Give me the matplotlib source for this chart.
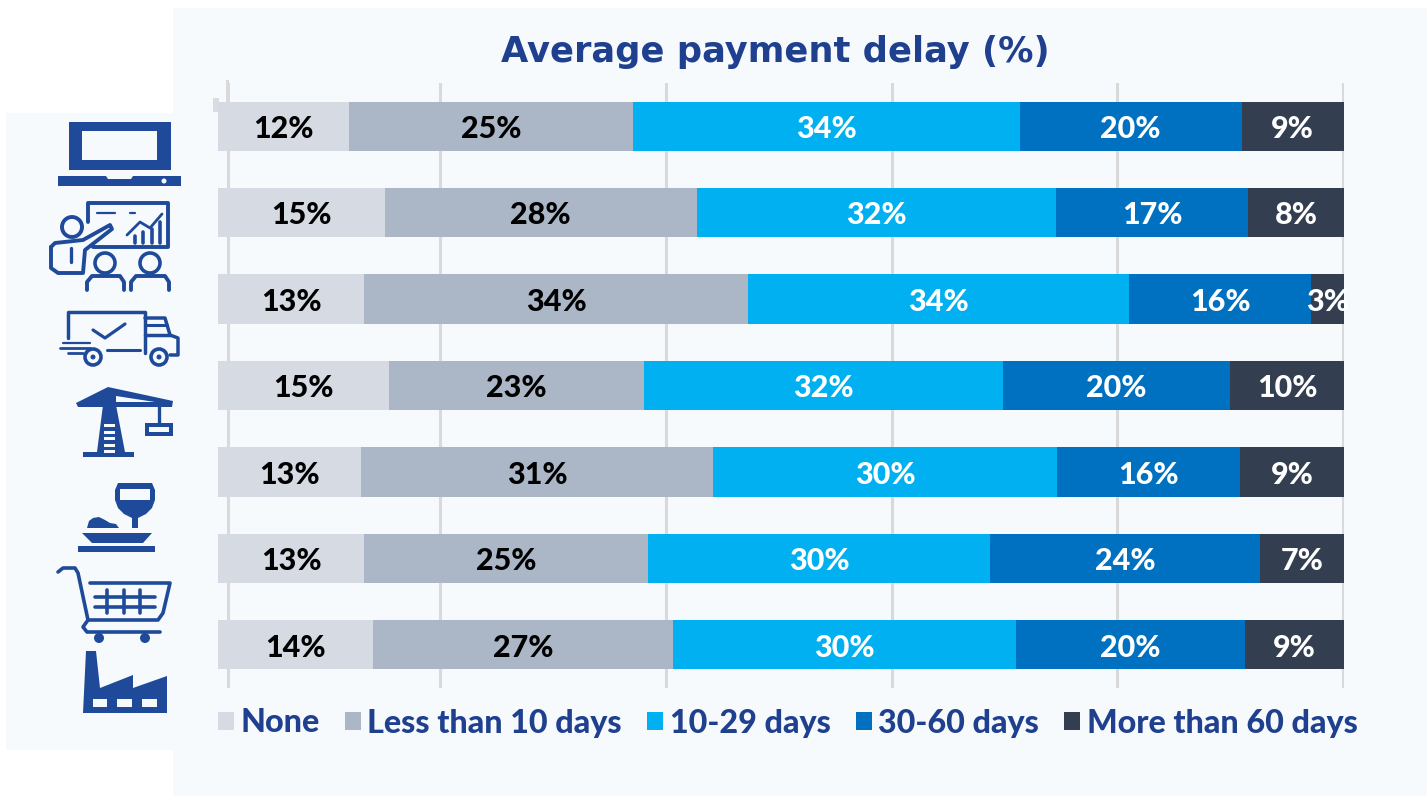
# -*- coding: utf-8 -*-
#Average payment delay by sector, stacked bars with icons instead of sector names
import matplotlib
matplotlib.use('Agg')
import matplotlib.pyplot as plt
from matplotlib.patches import Rectangle, Polygon, Circle

#data, top row to bottom row
sectors = ['ICT', 'Business services', 'Transport', 'Construction',
           'Food and drink', 'Retail', 'Manufacturing']
legend_names = ['None', 'Less than 10 days', '10-29 days', '30-60 days', 'More than 60 days']
none = [11.6, 14.8, 13.0, 15.2, 12.7, 13.0, 13.8]
under_10 = [25.3, 27.7, 34.1, 22.6, 31.3, 25.2, 26.6]
days_10_29 = [34.3, 31.9, 33.8, 31.9, 30.5, 30.4, 30.5]
days_30_60 = [19.7, 17.1, 16.2, 20.2, 16.3, 23.9, 20.3]
over_60 = [9.1, 8.5, 2.9, 10.1, 9.2, 7.5, 8.8]
series = [none, under_10, days_10_29, days_30_60, over_60]

#printed labels are rounded, they do not always match the bar width
none_lbl = [12, 15, 13, 15, 13, 13, 14]
under_10_lbl = [25, 28, 34, 23, 31, 25, 27]
days_10_29_lbl = [34, 32, 34, 32, 30, 30, 30]
days_30_60_lbl = [20, 17, 16, 20, 16, 24, 20]
over_60_lbl = [9, 8, 3, 10, 9, 7, 9]
labels = [none_lbl, under_10_lbl, days_10_29_lbl, days_30_60_lbl, over_60_lbl]

grid_ticks = [0.9, 19.7, 39.8, 59.9, 79.8, 99.9]

colors = ['#D5DAE3', '#ABB7C7', '#00B0F0', '#0070C0', '#333F50']
text_colors = ['black', 'black', 'white', 'white', 'white']
navy = '#1F4A9A'
title_col = '#1F3F8F'
panel = '#F7FAFD'
W, H = 1427, 796

fig = plt.figure(figsize=(W / 100, H / 100), dpi=100, facecolor='white')

#overlay in pixel coordinates for the panels and the icons
bg = fig.add_axes([0, 0, 1, 1], zorder=0)
bg.set_xlim(0, W)
bg.set_ylim(H, 0)
bg.axis('off')
bg.add_patch(Rectangle((173, 8), W - 173, H - 8, color=panel, lw=0))
bg.add_patch(Rectangle((6, 113), 167, 637, color=panel, lw=0))
#leftover piece of the original axis at top left
bg.add_patch(Rectangle((213, 98), 6, 14, color='#D9DDE3', lw=0))
bg.add_patch(Rectangle((226, 80), 3, 22, color='#D9D9D9', lw=0))


def poly(pts, fc=navy):
    bg.add_patch(Polygon(pts, closed=True, fc=fc, ec='none'))


def line(pts, lw=2.5):
    bg.plot([p[0] for p in pts], [p[1] for p in pts], color=navy, lw=lw,
            solid_capstyle='round', solid_joinstyle='round')


def box(x0, y0, x1, y1, fc=navy):
    bg.add_patch(Rectangle((x0, y0), x1 - x0, y1 - y0, fc=fc, ec='none'))


def ring(x, y, r, lw=2.6):
    bg.add_patch(Circle((x, y), r, fc=panel, ec=navy, lw=lw))


def dot(x, y, r):
    bg.add_patch(Circle((x, y), r, fc=navy, ec='none', zorder=3))


#laptop
box(69, 122, 171, 170)
box(82, 131, 157, 160, panel)
poly([(58, 176), (106, 176), (108, 179), (131, 179), (133, 176), (181, 176), (181, 186), (58, 186)])
bg.add_patch(Circle((164, 181), 2.5, fc=panel, ec='none'))

#presenter
line([(88, 222), (88, 203), (168, 203), (168, 247), (93, 247)], 2.8)
line([(97, 213), (115, 213)], 1.6)
line([(130, 213), (135, 213)], 1.6)
for bx, top in zip([135, 143, 152, 160], [236, 232, 229, 222]):
    line([(bx, top), (bx, 243)], 2.6)
line([(127, 235), (140, 222), (150, 228), (162, 214)], 2.0)
line([(51, 247), (55, 243), (83, 240), (110, 225), (112, 229), (85, 250), (83, 273),
      (58, 273), (51, 268), (51, 247)], 2.8)
line([(71, 248), (71, 262)], 2.4)
ring(72, 227, 10, 2.8)
ring(105, 263, 10, 2.6)
ring(150, 263, 10, 2.6)
line([(87, 290), (87, 282), (92, 276), (120, 276), (124, 282), (124, 290)], 2.8)
line([(131, 290), (131, 282), (136, 276), (165, 276), (169, 282), (169, 290)], 2.8)

#truck
line([(68, 338), (68, 312), (145, 312), (145, 353)], 2.5)
line([(93, 330), (105, 338), (125, 324)], 2.3)
line([(60, 348), (90, 348)], 2.0)
line([(63, 343), (90, 343)], 1.6)
line([(68, 353), (83, 353)], 2.0)
line([(107, 350), (140, 350)], 2.2)
line([(145, 318), (165, 318), (170, 335), (178, 338), (178, 355), (170, 355)], 2.5)
line([(145, 335), (170, 335)], 2.5)
line([(145, 325), (167, 325)], 2.2)
ring(93, 357, 8)
ring(159, 357, 8)
dot(93, 357, 2.5)
dot(159, 357, 2.5)

#crane
poly([(76, 403), (108, 387), (173, 401), (172, 407), (78, 407)])
poly([(116, 396), (155, 402), (116, 402)], panel)
poly([(103, 405), (116, 405), (125, 452), (97, 452)])
box(83, 452, 134, 457)
for gy in [424, 431, 437, 444, 450]:
    box(104, gy, 115, gy + 3, panel)
line([(159, 405), (159, 423)], 2.4)
box(145, 423, 173, 436)
box(149, 427, 169, 432, panel)

#food and glass
poly([(118, 483), (152, 483), (155, 490), (155, 500), (152, 508), (146, 514), (138, 518), (138, 528),
      (132, 528), (132, 518), (124, 514), (118, 508), (115, 500), (115, 490)])
box(120, 489, 150, 500, panel)
poly([(87, 528), (89, 521), (93, 518), (99, 517), (105, 520), (110, 523), (116, 524), (119, 528)])
poly([(82, 533), (152, 533), (143, 543), (92, 543)])
box(78, 546, 155, 552)

#shopping cart
line([(58, 572), (63, 568), (75, 568), (78, 573), (88, 620), (83, 627), (87, 632), (160, 632)], 2.6)
line([(90, 583), (170, 583), (163, 613), (158, 620), (88, 620)], 2.6)
line([(95, 597), (155, 597)], 2.6)
line([(95, 607), (155, 607)], 2.6)
for vx in [107, 124, 140]:
    line([(vx, 590), (vx, 613)], 2.6)
dot(99, 638, 5)
dot(145, 638, 5)

#factory
poly([(86, 651), (96, 651), (100, 688), (133, 675), (133, 688), (167, 676), (167, 713), (83, 713)])
for wx0, wx1 in [(93, 107), (117, 132), (142, 157)]:
    box(wx0, 699, wx1, 707, panel)

#main chart
ax = fig.add_axes([218 / W, 1 - 688 / H, 1126 / W, 605 / H], zorder=1)
ax.patch.set_alpha(0)
y = list(range(len(sectors)))
left = [0] * len(sectors)
for vals, lbls, col, tcol, name in zip(series, labels, colors, text_colors, legend_names):
    bars = ax.barh(y, vals, left=left, height=0.57, color=col, label=name, zorder=3)
    anns = ax.bar_label(bars, labels=[str(v) + '%' for v in lbls], label_type='center',
                        color=tcol, fontsize=22, fontweight=900, family='Lato', zorder=4)
    for a in anns:
        a.xyann = (0, -2)
    left = [a + b for a, b in zip(left, vals)]

ax.set_xlim(0, 100)
ax.set_ylim(6.5, -0.5)
ax.set_xticks(grid_ticks)
ax.set_yticks([])
ax.tick_params(axis='x', length=0, labelbottom=False)
ax.grid(axis='x', color='#D9D9D9', lw=2.2, zorder=0)
ax.spines[['top', 'right', 'left', 'bottom']].set_visible(False)

leg = ax.legend(loc='center left', bbox_to_anchor=(205 / W, 1 - 723 / H),
                bbox_transform=fig.transFigure, ncol=5, frameon=False,
                handlelength=0.5, handleheight=0.5, handletextpad=0.2,
                columnspacing=0.78, borderpad=0, borderaxespad=0.4,
                prop={'family': 'Lato', 'weight': 900, 'size': 23.2})
for t in leg.get_texts():
    t.set_color(title_col)

fig.text(775.5 / W, 1 - 52 / H, 'Average payment delay (%)', ha='center', va='center',
         color=title_col, fontsize=25.4, fontweight='bold', family='DejaVu Sans')

plt.savefig('out.png', dpi=100)
